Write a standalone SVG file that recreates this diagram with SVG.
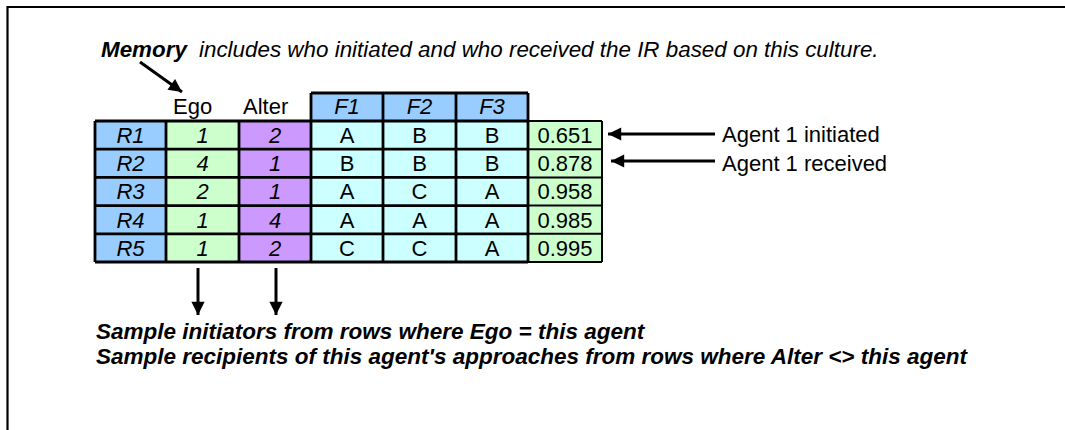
<svg xmlns="http://www.w3.org/2000/svg" width="1065" height="430" viewBox="0 0 1065 430">
<style>
  text { font-family: "Liberation Sans", Arial, sans-serif; fill: #000; }
  .cell { font-size: 22px; text-anchor: middle; }
  .it { font-style: italic; }
  .hdr { font-size: 22px; }
  .ln { stroke: #000; stroke-width: 2.8; fill: none; }
  .thin { stroke: #000; stroke-width: 2; fill: none; }
  .arr { stroke: #000; stroke-width: 3; fill: none; }
  .note { font-size: 22.5px; font-weight: bold; font-style: italic; }
  .lbl { font-size: 22px; }
</style>
<defs>
  <marker id="ah" viewBox="0 0 10 10" refX="10" refY="5" markerWidth="5" markerHeight="4.4" markerUnits="strokeWidth" orient="auto">
    <path d="M0,0 L10,5 L0,10 Z" fill="#000"/>
  </marker>
</defs>
<rect width="1065" height="430" fill="#fff"/>
<path d="M7.5,430 V7 H1065" stroke="#000" stroke-width="2.2" fill="none"/>

<g id="title">
  <text x="101" y="57" font-size="22.4" font-weight="bold" font-style="italic">Memory</text>
  <text x="199" y="57" font-size="22.4" font-style="italic">includes who initiated and who received the IR based on this culture.</text>
</g>

<g id="table">
  <rect x="95" y="121" width="71" height="141" fill="#99CCFF"/>
  <rect x="166" y="121" width="73" height="141" fill="#CCFFCC"/>
  <rect x="239" y="121" width="72" height="141" fill="#CC99FF"/>
  <rect x="311" y="121" width="217" height="141" fill="#CCFFFF"/>
  <rect x="311" y="93" width="217" height="28" fill="#99CCFF"/>
  <rect x="528" y="121" width="74" height="141" fill="#CCFFCC"/>
  <path class="ln" d="M95,121 H528 M95,149.2 H528 M95,177.4 H528 M95,205.6 H528 M95,233.8 H528 M95,262 H528"/>
  <path class="ln" d="M95,121 V262 M166,121 V262 M239,121 V262 M311,93 V262 M383,93 V262 M456,93 V262 M528,93 V262 M311,93 H528"/>
  <path class="thin" d="M528,121 H602 M528,149.2 H602 M528,177.4 H602 M528,205.6 H602 M528,233.8 H602 M528,262 H602 M602,121 V262"/>
  <text class="hdr" x="173" y="114">Ego</text>
  <text class="hdr" x="243" y="114">Alter</text>
  <text class="cell it" x="347" y="114">F1</text>
  <text class="cell it" x="419.5" y="114">F2</text>
  <text class="cell it" x="492" y="114">F3</text>
</g>

<g id="row1">
  <text class="cell it" x="130.5" y="143">R1</text>
  <text class="cell it" x="202.5" y="143">1</text>
  <text class="cell it" x="275" y="143">2</text>
  <text class="cell" x="347" y="143">A</text>
  <text class="cell" x="419.5" y="143">B</text>
  <text class="cell" x="492" y="143">B</text>
  <text class="cell" x="565" y="143">0.651</text>
</g>
<g id="row2">
  <text class="cell it" x="130.5" y="171.2">R2</text>
  <text class="cell it" x="202.5" y="171.2">4</text>
  <text class="cell it" x="275" y="171.2">1</text>
  <text class="cell" x="347" y="171.2">B</text>
  <text class="cell" x="419.5" y="171.2">B</text>
  <text class="cell" x="492" y="171.2">B</text>
  <text class="cell" x="565" y="171.2">0.878</text>
</g>
<g id="row3">
  <text class="cell it" x="130.5" y="199.4">R3</text>
  <text class="cell it" x="202.5" y="199.4">2</text>
  <text class="cell it" x="275" y="199.4">1</text>
  <text class="cell" x="347" y="199.4">A</text>
  <text class="cell" x="419.5" y="199.4">C</text>
  <text class="cell" x="492" y="199.4">A</text>
  <text class="cell" x="565" y="199.4">0.958</text>
</g>
<g id="row4">
  <text class="cell it" x="130.5" y="227.6">R4</text>
  <text class="cell it" x="202.5" y="227.6">1</text>
  <text class="cell it" x="275" y="227.6">4</text>
  <text class="cell" x="347" y="227.6">A</text>
  <text class="cell" x="419.5" y="227.6">A</text>
  <text class="cell" x="492" y="227.6">A</text>
  <text class="cell" x="565" y="227.6">0.985</text>
</g>
<g id="row5">
  <text class="cell it" x="130.5" y="255.8">R5</text>
  <text class="cell it" x="202.5" y="255.8">1</text>
  <text class="cell it" x="275" y="255.8">2</text>
  <text class="cell" x="347" y="255.8">C</text>
  <text class="cell" x="419.5" y="255.8">C</text>
  <text class="cell" x="492" y="255.8">A</text>
  <text class="cell" x="565" y="255.8">0.995</text>
</g>

<g id="labels">
  <text class="lbl" x="722" y="142">Agent 1 initiated</text>
  <text class="lbl" x="722" y="171">Agent 1 received</text>
  <text class="note" x="96" y="339">Sample initiators from rows where Ego = this agent</text>
  <text class="note" x="96" y="364">Sample recipients of this agent's approaches from rows where Alter &lt;&gt; this agent</text>
</g>

<g id="connectors">
  <line class="arr" x1="140" y1="62" x2="182" y2="92" marker-end="url(#ah)"/>
  <line class="arr" x1="198" y1="268" x2="198" y2="315" marker-end="url(#ah)"/>
  <line class="arr" x1="276" y1="268" x2="276" y2="315" marker-end="url(#ah)"/>
  <line class="arr" x1="715" y1="134" x2="608" y2="134" marker-end="url(#ah)"/>
  <line class="arr" x1="715" y1="161" x2="611" y2="161" marker-end="url(#ah)"/>
</g>
</svg>
